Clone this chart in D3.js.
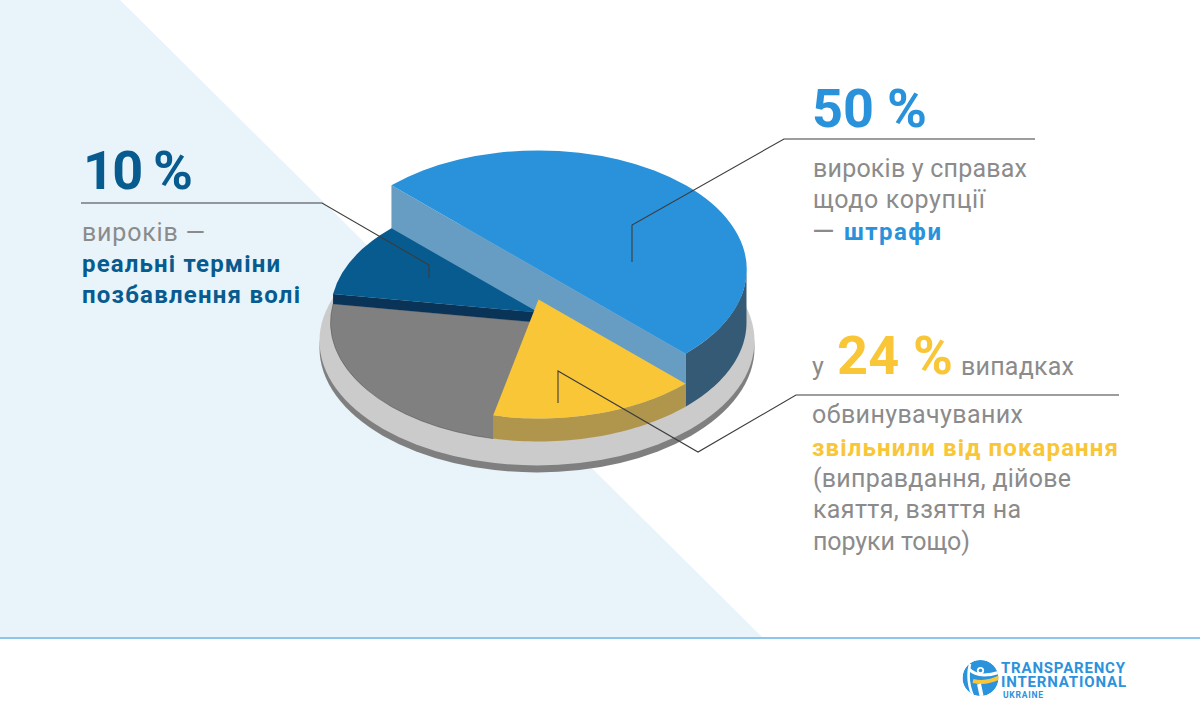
<!DOCTYPE html>
<html><head><meta charset="utf-8">
<script src="https://cdn.jsdelivr.net/npm/d3@7"></script>
<style>html,body{margin:0;padding:0;background:#fff}svg{display:block}text{font-family:Roboto,sans-serif}</style>
</head><body><svg id="c" width="1200" height="719"></svg>
<script>
const sliceNames=["штрафи","звільнено","інше","реальні терміни"];
const sliceValues=[50,16,24,10];
const sliceColors=["#2a92da","#f9c638","#808080","#075b8f"];
const sliceWalls=["#355a75","#b0964d","#808080","#0a3358"];
const sliceLift=[53,23,0,10];
const LIGHT="#679dc3";

const svg=d3.select("#c");
const W=1200,H=719,cx=538.5,baseY=322.5,R=208,tilt=0.572;

svg.append("path").attr("d","M0 0H120L762 637H0Z").attr("fill","#e8f3fa");
svg.append("line").attr("x1",0).attr("x2",W).attr("y1",638).attr("y2",638).attr("stroke","#8cc6ec").attr("stroke-width",2);

const plate=d3.arc().innerRadius(0).outerRadius(217.5).startAngle(0).endAngle(2*Math.PI);
svg.append("path").attr("d",plate()).attr("transform",`translate(537,348) scale(1,${tilt})`).attr("fill","#7f7f7f");
svg.append("path").attr("d",plate()).attr("transform",`translate(537,341) scale(1,${tilt})`).attr("fill","#cbcbcb");

const pie=d3.pie().sort(null).startAngle(-Math.PI/4).endAngle(7*Math.PI/4);
const arcs=pie(sliceValues);
const arc=d3.arc().innerRadius(0).outerRadius(R);
const pt=(a,lift)=>[cx+R*Math.sin(a),baseY-lift-R*tilt*Math.cos(a)];
const lineGen=d3.line();
const drawTop=i=>svg.append("path").attr("d",arc(arcs[i])).attr("fill",sliceColors[i])
  .attr("transform",`translate(${cx},${baseY-sliceLift[i]}) scale(1,${tilt})`);
function wall(i){
  const a0=Math.max(arcs[i].startAngle,Math.PI/2),a1=Math.min(arcs[i].endAngle,3*Math.PI/2);
  const as=d3.range(0,41).map(k=>a0+(a1-a0)*k/40);
  const upper=as.map(a=>pt(a,sliceLift[i]));
  const lower=as.slice().reverse().map(a=>pt(a,0));
  svg.append("path").attr("d",lineGen(upper.concat(lower))+"Z").attr("fill",sliceWalls[i]);
}
function cutFace(a,lift,fill){
  const c=[cx,baseY-lift];
  const p=pt(a,lift);
  svg.append("path").attr("d",lineGen([c,p,[p[0],p[1]+lift],[c[0],c[1]+lift]])+"Z").attr("fill",fill);
}
// gray base
drawTop(2).attr("stroke","#4a4a4a").attr("stroke-width",0.6);
// blue outer wall + cut face
wall(0);
{
  const a=arcs[0].startAngle,b=arcs[0].endAngle,l=sliceLift[0];
  const p=pt(a,l),q=pt(b,l);
  svg.append("path").attr("d",lineGen([p,q,[q[0],q[1]+l],[p[0],p[1]+l]])+"Z").attr("fill",LIGHT);
}
// dark blue
cutFace(arcs[3].startAngle,sliceLift[3],sliceWalls[3]);
drawTop(3);
// yellow
wall(1);
drawTop(1);
// blue top
drawTop(0);

// leaders
const leaders=[
 [[81,203],[322,203],[429,265],[429,278]],
 [[1035,139],[784,139],[632,225],[632,262]],
 [[1119,395],[796,395],[698,452],[558,371],[558,403]]
];
leaders.forEach(l=>svg.append("path").attr("d",lineGen(l)).attr("fill","none").attr("stroke","#3c3c3c").attr("stroke-width",1.1));

// text
const GRAY="#8b8b8b",BLUE="#2a92da",NAVY="#075b8f",YEL="#f9c638";
const labels=[
 ["10 %",83,189,110,54,700,NAVY],
 ["вироків —",82,241,123,25,400,GRAY],
 ["реальні терміни",82,272,198,24,700,NAVY],
 ["позбавлення волі",82,303,218,24,700,NAVY],
 ["50 %",812,127,115,54,700,BLUE],
 ["вироків у справах",813,177,214,25,400,GRAY],
 ["щодо корупції",813,208,172,25,400,GRAY],
 ["—",812,241,24,29,400,GRAY],
 ["штрафи",844,240,97,24,700,BLUE],
 ["у",812,375,12,25,400,GRAY],
 ["24 %",837,374,116,54,700,YEL],
 ["випадках",961,375,113,25,400,GRAY],
 ["обвинувачуваних",812,423,211,25,400,GRAY],
 ["звільнили від покарання",812,456,306,24,700,YEL],
 ["(виправдання, дійове",813,487,258,25,400,GRAY],
 ["каяття, взяття на",813,518,208,25,400,GRAY],
 ["поруки тощо)",813,550,157,25,400,GRAY]
];
labels.forEach(d=>svg.append("text").text(d[0]).attr("x",d[1]).attr("y",d[2]).attr("textLength",d[3]).attr("lengthAdjust","spacing")
  .attr("font-size",d[4]).attr("font-weight",d[5]).attr("fill",d[6]));

// logo
svg.append("clipPath").attr("id","logoClip").append("circle").attr("cx",980.5).attr("cy",678).attr("r",18);
const logo=svg.append("g").attr("clip-path","url(#logoClip)");
logo.append("circle").attr("cx",980.5).attr("cy",678).attr("r",18).attr("fill","#2b92dc");
const stroke=(d,c,w)=>logo.append("path").attr("d",d).attr("fill","none").attr("stroke",c).attr("stroke-width",w);
stroke("M970 664Q966 680 973 696","#fff",2.6);
stroke("M969 669Q978 679 1000 672","#fff",3);
stroke("M973 681Q987 684 1000 677","#f9c638",4);
stroke("M979 684L982 698","#fff",4);
logo.append("circle").attr("cx",980.5).attr("cy",670.5).attr("r",3.6).attr("fill","#fff");
logo.append("circle").attr("cx",980.5).attr("cy",670.5).attr("r",1.8).attr("fill","#2b92dc");
[["TRANSPARENCY",1001,672.5,124,15,700],["INTERNATIONAL",1001,687,125,15,700],["UKRAINE",1003,698,40,8.5,700]]
 .forEach(d=>svg.append("text").text(d[0]).attr("x",d[1]).attr("y",d[2]).attr("textLength",d[3]).attr("lengthAdjust","spacing")
  .attr("font-size",d[4]).attr("font-weight",d[5]).attr("fill","#2b92dc"));
</script></body></html>
